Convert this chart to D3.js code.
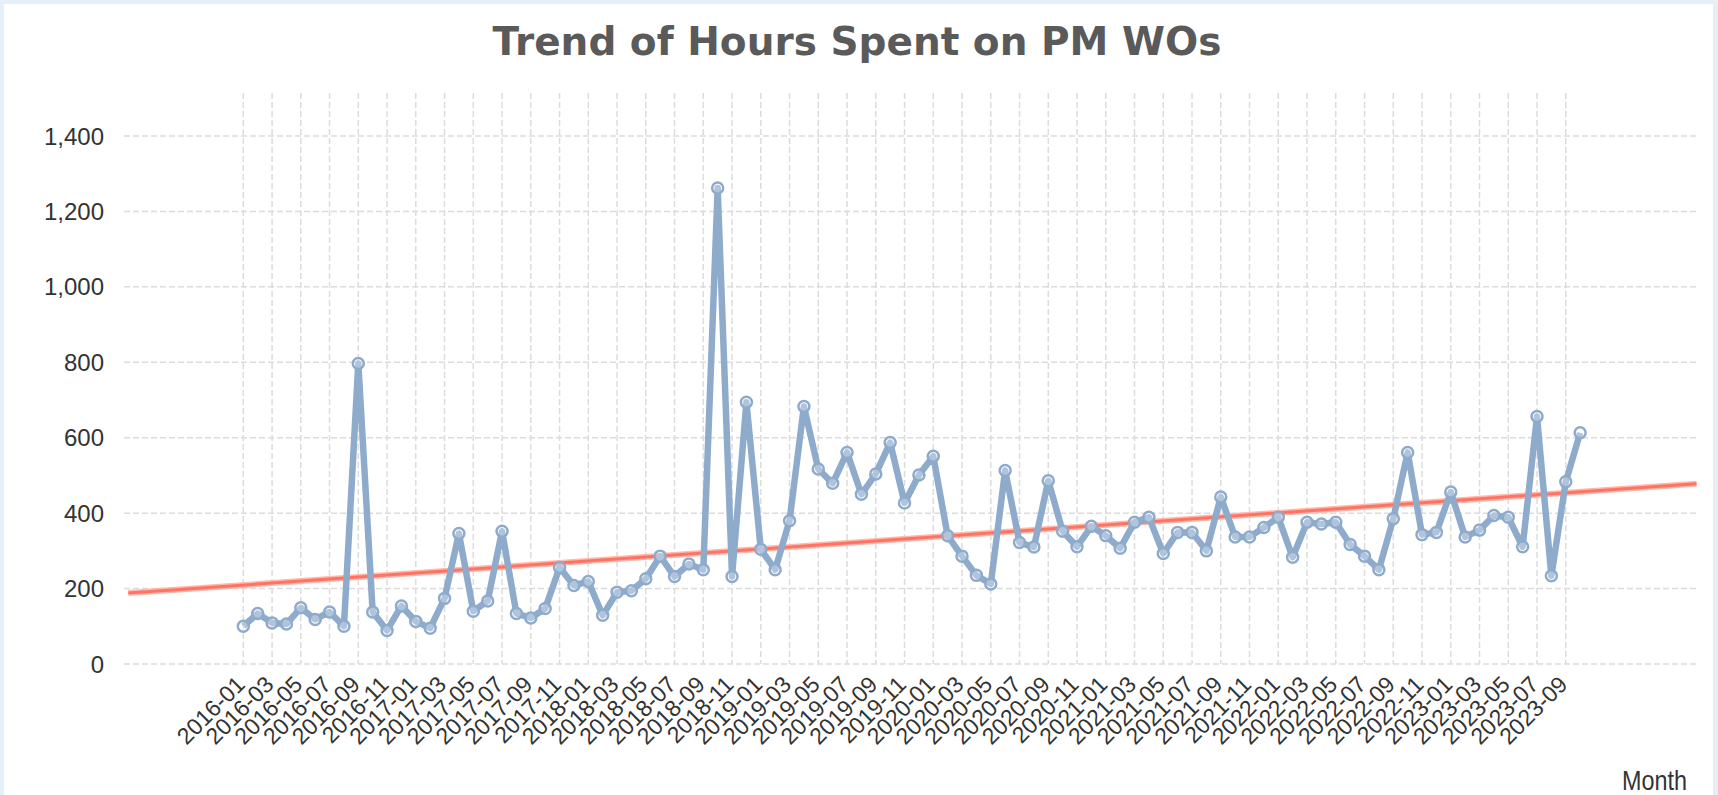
<!DOCTYPE html>
<html>
<head>
<meta charset="utf-8">
<script src="https://cdn.jsdelivr.net/npm/d3@7"></script>
<style>
  html, body { margin: 0; padding: 0; background: #e4eff7; overflow: hidden; }
  #chart { width: 1718px; height: 795px; }
</style>
</head>
<body>
<div id="chart"></div>
<script>
// month categories, one per point
const MONTHS = [
  "2016-01","2016-02","2016-03","2016-04","2016-05","2016-06","2016-07","2016-08","2016-09","2016-10","2016-11","2016-12",
  "2017-01","2017-02","2017-03","2017-04","2017-05","2017-06","2017-07","2017-08","2017-09","2017-10","2017-11","2017-12",
  "2018-01","2018-02","2018-03","2018-04","2018-05","2018-06","2018-07","2018-08","2018-09","2018-10","2018-11","2018-12",
  "2019-01","2019-02","2019-03","2019-04","2019-05","2019-06","2019-07","2019-08","2019-09","2019-10","2019-11","2019-12",
  "2020-01","2020-02","2020-03","2020-04","2020-05","2020-06","2020-07","2020-08","2020-09","2020-10","2020-11","2020-12",
  "2021-01","2021-02","2021-03","2021-04","2021-05","2021-06","2021-07","2021-08","2021-09","2021-10","2021-11","2021-12",
  "2022-01","2022-02","2022-03","2022-04","2022-05","2022-06","2022-07","2022-08","2022-09","2022-10","2022-11","2022-12",
  "2023-01","2023-02","2023-03","2023-04","2023-05","2023-06","2023-07","2023-08","2023-09","2023-10"
];

// hours spent on PM work orders
const HOURS = [
  100, 134, 109, 106, 149, 118, 138, 100, 797, 138,
  89, 154, 113, 95, 174, 346, 140, 167, 352, 134,
  122, 147, 256, 208, 219, 129, 190, 194, 226, 286,
  232, 265, 250, 1262, 232, 694, 304, 250, 380, 683,
  517, 479, 561, 450, 504, 587, 427, 501, 551, 340,
  286, 235, 212, 513, 322, 310, 486, 352, 311, 365,
  340, 307, 376, 389, 293, 349, 349, 300, 443, 337,
  337, 362, 389, 283, 376, 371, 376, 317, 286, 250,
  385, 561, 343, 349, 456, 337, 355, 394, 389, 311,
  656, 234, 483, 613
];

// trend line value at the left and right edge of the plot
const TREND = [188, 478];

const Y_TICKS = [0, 200, 400, 600, 800, 1000, 1200, 1400];

const W = 1718, H = 795;
const plot = { left: 124, right: 1698, top: 93, bottom: 664 };

const svg = d3.select("#chart").append("svg")
  .attr("width", W).attr("height", H)
  .style("display", "block");

svg.append("rect").attr("x", 4).attr("y", 4).attr("width", 1709).attr("height", H)
  .attr("fill", "#fff");

// index-based x scale, padded like the original
const x = d3.scaleLinear().domain([-8.3, 101.2]).range([plot.left, plot.right]);
const y = d3.scaleLinear().domain([0, 1514]).range([plot.bottom, plot.top]);

const grid = svg.append("g")
  .attr("stroke", "#dcdcdc").attr("stroke-width", 1.5).attr("stroke-dasharray", "6,3");

grid.selectAll("line.h").data(Y_TICKS).enter().append("line")
  .attr("x1", plot.left).attr("x2", plot.right)
  .attr("y1", d => y(d)).attr("y2", d => y(d));

const labelIdx = MONTHS.map((m, i) => i).filter(i => i % 2 === 0);

grid.selectAll("line.v").data(labelIdx).enter().append("line")
  .attr("x1", d => x(d)).attr("x2", d => x(d))
  .attr("y1", plot.top).attr("y2", plot.bottom);

// y labels
svg.append("g").selectAll("text").data(Y_TICKS).enter().append("text")
  .attr("x", 104).attr("y", d => y(d)).attr("dy", "0.36em")
  .attr("text-anchor", "end")
  .style("font-family", "'Liberation Sans', Arial, sans-serif")
  .style("font-size", "24px").style("fill", "#333")
  .text(d => d3.format(",")(d));

// x labels, rotated
svg.append("g").selectAll("text").data(labelIdx).enter().append("text")
  .attr("transform", d => `translate(${x(d) + 3},686) rotate(-45)`)
  .attr("text-anchor", "end")
  .style("font-family", "'Liberation Sans', Arial, sans-serif")
  .style("font-size", "23px").style("fill", "#333")
  .text(d => MONTHS[d]);

// trend line
const xd = x.domain();
const trendLine = d3.line().x(d => x(d[0])).y(d => y(d[1]));
const trendPts = [[xd[0] + 0.3, TREND[0]], [xd[1] - 0.1, TREND[1]]];
svg.append("path").attr("d", trendLine(trendPts))
  .attr("fill", "none").attr("stroke", "#ffb8ae").attr("stroke-width", 6);
svg.append("path").attr("d", trendLine(trendPts))
  .attr("fill", "none").attr("stroke", "#ff7363").attr("stroke-width", 3);

// data line
const line = d3.line().x((d, i) => x(i)).y(d => y(d));
svg.append("path").attr("d", line(HOURS))
  .attr("fill", "none").attr("stroke", "#8eabcc").attr("stroke-width", 6.5)
  .attr("stroke-linejoin", "round");

svg.append("g").selectAll("circle").data(HOURS).enter().append("circle")
  .attr("cx", (d, i) => x(i)).attr("cy", d => y(d)).attr("r", 5.5)
  .attr("fill", "rgba(255,255,255,0.3)")
  .attr("stroke", "#8eabcc").attr("stroke-width", 2.5);

// title
svg.append("text").attr("x", 857).attr("y", 55).attr("text-anchor", "middle")
  .style("font-family", "'DejaVu Sans', Verdana, sans-serif")
  .style("font-size", "39px").style("font-weight", "bold").style("fill", "#5a5a5a")
  .text("Trend of Hours Spent on PM WOs");

// axis title
svg.append("text").attr("x", 1687).attr("y", 790).attr("text-anchor", "end")
  .attr("textLength", 65).attr("lengthAdjust", "spacingAndGlyphs")
  .style("font-family", "'Liberation Sans', Arial, sans-serif")
  .style("font-size", "28px").style("fill", "#333")
  .text("Month");
</script>
</body>
</html>
